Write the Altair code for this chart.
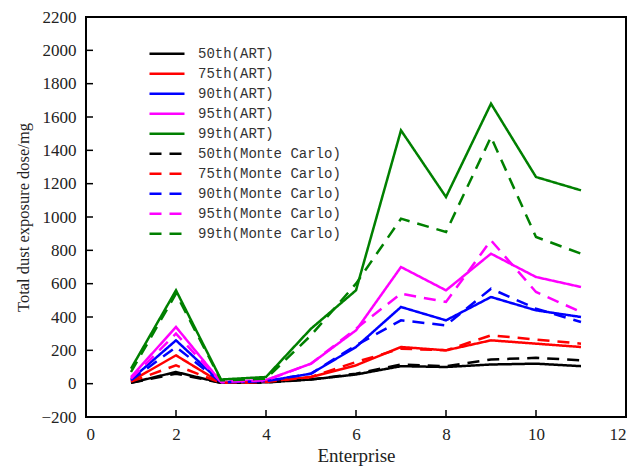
import altair as alt
import pandas as pd

enterprise = list(range(1, 12))

art_50 = [5, 70, 5, 8, 25, 55, 105, 100, 115, 120, 105]
art_75 = [15, 170, 5, 12, 40, 110, 220, 200, 260, 240, 220]
art_90 = [25, 260, 8, 15, 60, 220, 460, 380, 520, 440, 400]
art_95 = [40, 340, 10, 22, 120, 320, 700, 560, 780, 640, 580]
art_99 = [90, 560, 25, 40, 330, 560, 1520, 1120, 1680, 1240, 1160]

mc_50 = [5, 60, 5, 8, 25, 60, 115, 105, 145, 155, 140]
mc_75 = [12, 110, 5, 10, 40, 130, 210, 200, 290, 265, 240]
mc_90 = [20, 220, 8, 15, 60, 230, 380, 350, 570, 450, 370]
mc_95 = [30, 300, 10, 20, 120, 330, 540, 490, 860, 550, 430]
mc_99 = [70, 540, 20, 30, 290, 600, 990, 910, 1480, 880, 780]

series_names = ["50th(ART)", "75th(ART)", "90th(ART)", "95th(ART)", "99th(ART)",
                "50th(Monte Carlo)", "75th(Monte Carlo)", "90th(Monte Carlo)",
                "95th(Monte Carlo)", "99th(Monte Carlo)"]
series_values = [art_50, art_75, art_90, art_95, art_99,
                 mc_50, mc_75, mc_90, mc_95, mc_99]
series_colors = ["#000000", "#FF0000", "#0000FF", "#FF00FF", "#008000"] * 2
series_dash = [[1, 0]] * 5 + [[12, 8]] * 5

y_ticks = list(range(-200, 2201, 200))
x_ticks = list(range(0, 13, 2))

rows = []
for i, (name, vals) in enumerate(zip(series_names, series_values)):
    for x, v in zip(enterprise, vals):
        rows.append({"Enterprise": x, "value": v, "series": name, "order": i})
df = pd.DataFrame(rows)

xscale = alt.Scale(domain=[0, 12], nice=False)
yscale = alt.Scale(domain=[-200, 2200], nice=False)

xaxis = alt.Axis(values=x_ticks, title="Enterprise", grid=False, ticks=False,
                 labelPadding=9, titlePadding=4, format="d", labelOverlap=False,
                 titleFontSize=19)
yaxis = alt.Axis(values=y_ticks, title="Total dust exposure dose/mg", grid=False,
                 ticks=False, labelPadding=10, titlePadding=9, format="d",
                 labelOverlap=False, titleFontSize=16.5)

lines = alt.Chart(df).mark_line(strokeWidth=2.5).encode(
    x=alt.X("Enterprise:Q", scale=xscale, axis=xaxis, title="Enterprise"),
    y=alt.Y("value:Q", scale=yscale, axis=yaxis, title="Total dust exposure dose/mg"),
    color=alt.Color("series:N", scale=alt.Scale(domain=series_names, range=series_colors),
                    title=None,
                    legend=alt.Legend(orient="none", legendX=62, legendY=27,
                                      symbolType="stroke", symbolSize=1225,
                                      symbolStrokeWidth=2.5, clipHeight=19.5,
                                      rowPadding=0, labelOffset=12,
                                      labelFont="Liberation Mono", labelFontSize=14,
                                      labelColor="#333333", labelLimit=400)),
    strokeDash=alt.StrokeDash("series:N",
                              scale=alt.Scale(domain=series_names, range=series_dash),
                              title=None),
    order="order:Q",
    detail="series:N",
)

ytick_df = pd.DataFrame({"v": y_ticks})
xtick_df = pd.DataFrame({"v": x_ticks})

yticks_layer = alt.Chart(ytick_df).mark_rule(color="black", strokeWidth=1.5).encode(
    y=alt.Y("v:Q", scale=yscale, axis=yaxis, title="Total dust exposure dose/mg"),
    x=alt.value(0), x2=alt.value(7),
)
xticks_layer = alt.Chart(xtick_df).mark_rule(color="black", strokeWidth=1.5).encode(
    x=alt.X("v:Q", scale=xscale, axis=xaxis, title="Enterprise"),
    y=alt.value(400), y2=alt.value(393),
)

chart = alt.layer(lines, yticks_layer, xticks_layer).properties(
    width=540, height=400,
    autosize=alt.AutoSizeParams(type="none"),
    padding={"left": 78, "top": 9, "right": 3, "bottom": 55},
).configure_view(
    stroke="black", strokeWidth=2
).configure_axis(
    domain=False,
    labelFont="Liberation Serif", labelFontSize=17, labelColor="#222222",
    titleFont="Liberation Serif", titleFontWeight="normal",
    titleColor="#222222",
)

chart.save("out.html", embed_options={"renderer": "svg", "actions": False})
